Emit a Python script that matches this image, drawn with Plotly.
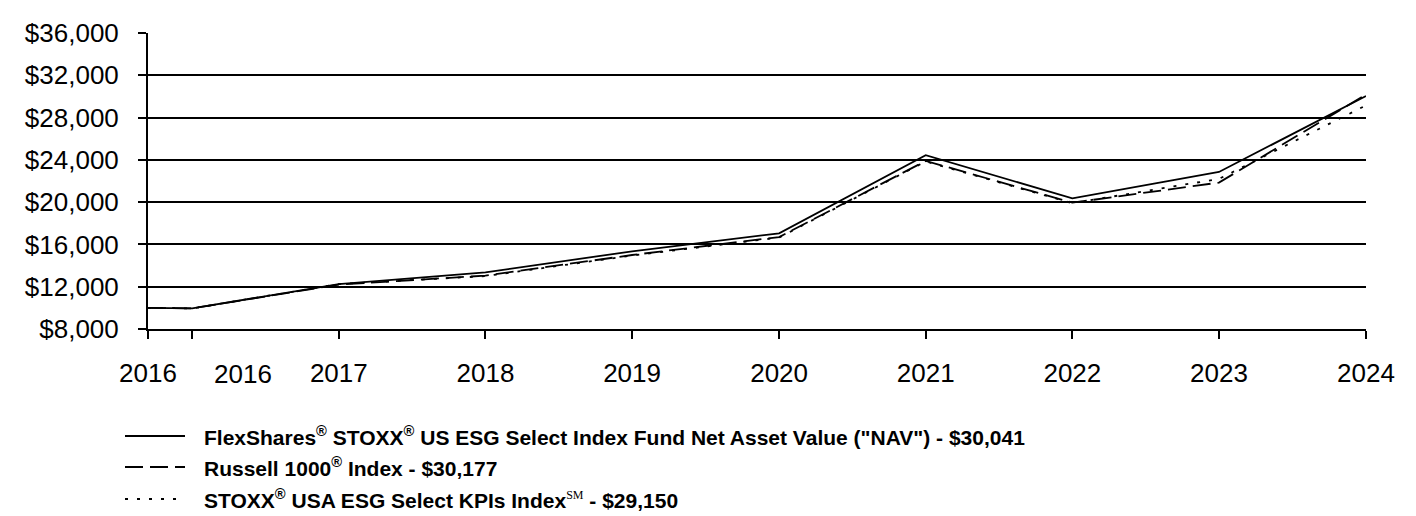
import plotly.graph_objects as go

dates = ["2016-07-13", "2016-10-31", "2017-10-31", "2018-10-31", "2019-10-31",
         "2020-10-31", "2021-10-31", "2022-10-31", "2023-10-31", "2024-10-31"]
tick_labels = ["2016", "2016", "2017", "2018", "2019", "2020", "2021", "2022", "2023", "2024"]

nav = [10000, 9960, 12250, 13350, 15350, 17050, 24450, 20350, 22850, 30041]
russell = [10000, 9950, 12200, 13050, 15000, 16700, 23900, 19950, 21850, 30177]
stoxx = [10000, 9950, 12250, 13000, 14950, 16650, 23850, 19900, 22200, 29150]

names = [
    'FlexShares<sup>®</sup> STOXX<sup>®</sup> US ESG Select Index Fund Net Asset Value ("NAV") - $30,041',
    'Russell 1000<sup>®</sup> Index - $30,177',
    'STOXX<sup>®</sup> USA ESG Select KPIs Index<sup><span style="font-family:Liberation Serif;font-weight:normal;font-size:12px">SM</span></sup> - $29,150',
]
series = [nav, russell, stoxx]
dashes = ["solid", "18px,7px", "3px,9px"]

yticks = [8000, 12000, 16000, 20000, 24000, 28000, 32000, 36000]
ytick_text = ["$8,000", "$12,000", "$16,000", "$20,000", "$24,000", "$28,000", "$32,000", "$36,000"]

# page body has an 8px margin, so figure coords = screen coords - 8
W, H = 1408, 508
L, R, T, B = 140, 50, 25, 187
pw, ph = W - L - R, H - T - B
FONT = "Liberation Sans, Arial, sans-serif"

fig = go.Figure()
for nm, vals, d in zip(names, series, dashes):
    fig.add_trace(go.Scatter(
        x=dates, y=vals, mode="lines", name=nm, showlegend=False,
        line=dict(color="black", width=1.8, dash=d),
        hoverinfo="skip",
    ))

# first two ticks are close together: the second label is drawn shifted right
shown_ticks = [t if i != 1 else "" for i, t in enumerate(tick_labels)]
fig.add_annotation(xref="x", yref="paper", x=dates[1], y=0, xshift=51, yshift=-45,
                   xanchor="center", yanchor="middle", showarrow=False,
                   text=tick_labels[1], font=dict(size=26, family=FONT, color="black"))

# manual legend
legend_rows_px = [428, 459, 491]
for nm, d, ypx in zip(names, dashes, legend_rows_px):
    yp = (H - B - ypx) / ph
    fig.add_shape(type="line", xref="paper", yref="paper",
                  x0=(117 - L) / pw, x1=(177 - L) / pw, y0=yp, y1=yp,
                  line=dict(color="black", width=1.8, dash=d))
    fig.add_annotation(xref="paper", yref="paper", x=(194 - L) / pw, y=yp,
                       xanchor="left", yanchor="middle", showarrow=False,
                       text="<b>" + nm + "</b>",
                       font=dict(size=21, family=FONT, color="black"))

fig.update_layout(
    width=W, height=H,
    margin=dict(l=L, r=R, t=T, b=B),
    paper_bgcolor="white", plot_bgcolor="white",
    font=dict(family=FONT, color="black"),
    showlegend=False,
)
fig.update_xaxes(
    type="date", range=[dates[0], dates[-1]], automargin=False,
    tickmode="array", tickvals=dates, ticktext=shown_ticks, tickangle=0,
    showgrid=False, showline=True, linecolor="black", linewidth=2,
    ticks="outside", ticklen=8, tickwidth=2, tickcolor="black",
    tickfont=dict(size=26), zeroline=False, ticklabelstandoff=12,
)
fig.update_yaxes(
    range=[8000, 36000], tickmode="array", tickvals=yticks, ticktext=ytick_text,
    automargin=False,
    showgrid=True, gridcolor="black", gridwidth=2,
    showline=True, linecolor="black", linewidth=2,
    ticks="outside", ticklen=8, tickwidth=2, tickcolor="black",
    tickfont=dict(size=26), zeroline=False, ticklabelstandoff=14,
)

fig.write_html("out.html")
